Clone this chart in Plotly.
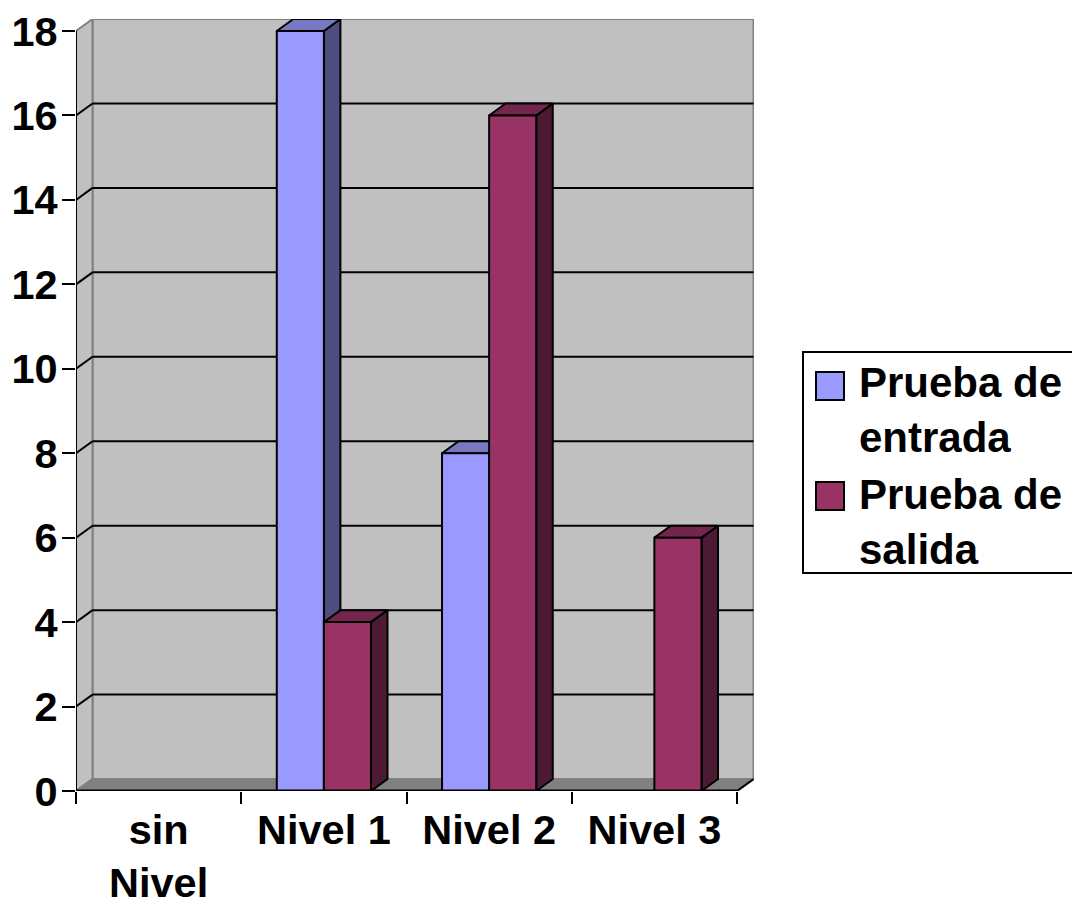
import plotly.graph_objects as go

categories = ["sin<br>Nivel", "Nivel 1", "Nivel 2", "Nivel 3"]
prueba_entrada = [0, 18, 8, 0]
prueba_salida = [0, 4, 16, 6]
y_ticks = [0, 2, 4, 6, 8, 10, 12, 14, 16, 18]
series_names = ["Prueba de<br>entrada", "Prueba de<br>salida"]

DX, DY = 0.1, 0.284
BAR_W = 0.285
FONT = "Liberation Sans"
FS = 42
AXIS_FS = 41.5
n = len(categories)

def polys(faces):
    xs, ys = [], []
    for f in faces:
        xs += [p[0] for p in f] + [f[0][0], None]
        ys += [p[1] for p in f] + [f[0][1], None]
    return xs, ys

fig = go.Figure()

def add_series(values, offset, front, top, side, name):
    fr, tp, sd = [], [], []
    for i, v in enumerate(values):
        if v <= 0:
            continue
        x0 = i + 0.5 + offset * BAR_W
        x1 = x0 + BAR_W
        fr.append([(x0, 0), (x1, 0), (x1, v), (x0, v)])
        tp.append([(x0, v), (x1, v), (x1 + DX, v + DY), (x0 + DX, v + DY)])
        sd.append([(x1, 0), (x1 + DX, DY), (x1 + DX, v + DY), (x1, v)])
    for faces, col in ((sd, side), (tp, top), (fr, front)):
        xs, ys = polys(faces)
        fig.add_trace(go.Scatter(x=xs, y=ys, mode="lines", fill="toself", fillcolor=col,
                                 line=dict(color="black", width=2), name=name,
                                 showlegend=False, hoverinfo="skip"))
    fig.add_trace(go.Scatter(x=[None], y=[None], mode="markers", name=name,
                             marker=dict(symbol="square", size=3, color=front, line=dict(width=0))))

BLUE, PURPLE = "#9999FF", "#993366"
add_series(prueba_entrada, -1, BLUE, "#7777C2", "#4D4D80", series_names[0])
add_series(prueba_salida, 0, PURPLE, "#73264D", "#4D1A33", series_names[1])

shapes = []
GRAY = "#808080"
def path(pts):
    return "M " + " L ".join(f"{a},{b}" for a, b in pts) + " Z"
top_v = y_ticks[-1]
shapes.append(dict(type="rect", x0=DX, x1=n + DX, y0=DY, y1=top_v + DY, fillcolor="#C0C0C0",
                   line=dict(color=GRAY, width=2), layer="below"))
shapes.append(dict(type="path", path=path([(0, 0), (DX, DY), (DX, top_v + DY), (0, top_v)]),
                   fillcolor="#C0C0C0", line=dict(color=GRAY, width=2), layer="below"))
shapes.append(dict(type="path", path=path([(0, 0), (n, 0), (n + DX, DY), (DX, DY)]),
                   fillcolor=GRAY, line=dict(color=GRAY, width=2), layer="below"))
for v in y_ticks[1:-1]:
    shapes.append(dict(type="line", x0=DX, x1=n + DX, y0=v + DY, y1=v + DY,
                       line=dict(color="black", width=2), layer="below"))
    shapes.append(dict(type="line", x0=0, x1=DX, y0=v, y1=v + DY,
                       line=dict(color="black", width=2), layer="below"))
shapes.append(dict(type="line", x0=n, x1=n + DX, y0=0, y1=DY, line=dict(color="black", width=2), layer="below"))
shapes.append(dict(type="line", x0=0, x1=0, y0=0, y1=top_v, line=dict(color="black", width=2), layer="above"))
shapes.append(dict(type="line", x0=0, x1=n, y0=0, y1=0, line=dict(color="black", width=3), layer="above"))

# legend frame and swatches, behind the legend's own entries
PW, PH = 678, 772
def px(x): return (x - 76) / PW
def py(y): return (791 - y) / PH
shapes.append(dict(type="rect", xref="paper", yref="paper", layer="above",
                   x0=px(803), x1=px(1090), y0=py(573), y1=py(352),
                   fillcolor="white", line=dict(color="black", width=2)))
for cy, col in ((386, BLUE), (496, PURPLE)):
    shapes.append(dict(type="rect", xref="paper", yref="paper", layer="above",
                       x0=px(816), x1=px(844), y0=py(cy + 14), y1=py(cy - 14),
                       fillcolor=col, line=dict(color="black", width=2)))

fig.update_layout(
    template="none",
    width=1072, height=909, autosize=False,
    margin=dict(l=76, r=1072 - 76 - PW, t=19, b=909 - 19 - PH, pad=0, autoexpand=False),
    paper_bgcolor="white", plot_bgcolor="white",
    font=dict(family=FONT, size=FS, color="black", weight="bold"),
    shapes=shapes,
    xaxis=dict(range=[0, 678 / 165.25], tickmode="array",
               tickvals=[i + 0.5 for i in range(n)], ticktext=categories,
               ticks="", showgrid=False, zeroline=False, showline=False, automargin=False,
               ticklabelstandoff=10, ticklabeloverflow="allow",
               tickfont=dict(family=FONT, size=AXIS_FS, weight="bold", color="black"),
               minor=dict(tickmode="array", tickvals=list(range(n + 1)), ticks="outside",
                          ticklen=12, tickwidth=2, tickcolor="black", showgrid=False),
               tickangle=0, fixedrange=True),
    yaxis=dict(range=[0, 772 / 42.22], tickmode="array", tickvals=y_ticks,
               ticks="outside", ticklen=13, tickwidth=2, tickcolor="black", automargin=False,
               ticklabelstandoff=-4, ticklabeloverflow="allow",
               tickfont=dict(family=FONT, size=AXIS_FS, weight="bold", color="black"),
               showgrid=False, zeroline=False, showline=False, fixedrange=True),
    legend=dict(x=px(803), xanchor="left", y=py(347), yanchor="top",
                bgcolor="rgba(0,0,0,0)", borderwidth=0,
                font=dict(family=FONT, size=FS, weight="bold", color="black"),
                tracegroupgap=0, itemwidth=46, valign="top"),
)
fig.write_html("out.html", config=dict(displayModeBar=False),
               post_script="document.body.style.margin='0';")
